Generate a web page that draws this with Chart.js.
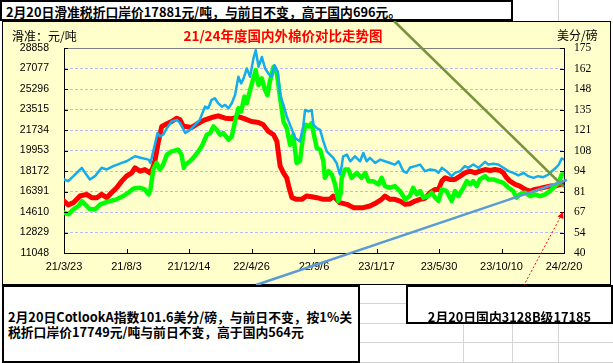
<!DOCTYPE html>
<html>
<head>
<meta charset="utf-8">
<script src="https://cdn.jsdelivr.net/npm/chart.js@4.4.1/dist/chart.umd.min.js"></script>
<style>
html, body { margin:0; padding:0; background:#fff; width:613px; height:363px; overflow:hidden; font-family:"Noto Sans CJK SC", sans-serif; }
.abs { position:absolute; }
#sheet { left:0; top:0; z-index:0; }
#chartBox { left:2px; top:21px; width:609px; height:264px; background:#FFFFCC; border:1px solid #000; box-sizing:border-box; z-index:1; }
#chartBox canvas { position:absolute; left:-1px; top:-1px; }
#links { left:0; top:0; z-index:3; }
.box { background:#fff; border:2px solid #000; box-sizing:border-box; font-weight:bold; font-size:13px; color:#000; white-space:nowrap; z-index:4; }
</style>
</head>
<body>
<svg id="sheet" class="abs" width="613" height="363">
  <g stroke="#D4D4D4" stroke-width="1">
    <line x1="558.5" y1="0" x2="558.5" y2="21"/>
    <line x1="360" y1="303.5" x2="406" y2="303.5"/>
    <line x1="360" y1="323.5" x2="613" y2="323.5"/>
    <line x1="360" y1="342.5" x2="613" y2="342.5"/>
    <line x1="360" y1="362.5" x2="613" y2="362.5"/>
    <line x1="463.5" y1="323" x2="463.5" y2="363"/>
    <line x1="512.5" y1="323" x2="512.5" y2="363"/>
    <line x1="558.5" y1="323" x2="558.5" y2="363"/>
  </g>
</svg>

<div id="chartBox" class="abs">
  <canvas id="c" width="609" height="264"></canvas>
</div>

<div class="abs" style="left:12px;top:27px;font-size:12px;line-height:18px;white-space:nowrap;z-index:2;">滑准：元/吨</div>
<div class="abs" style="left:143px;top:26px;width:280px;text-align:center;font-size:13.5px;line-height:18px;font-weight:bold;color:#FF0000;white-space:nowrap;z-index:2;">21/24年度国内外棉价对比走势图</div>
<div class="abs" style="left:557px;top:26px;font-size:12px;line-height:18px;white-space:nowrap;z-index:2;">美分/磅</div>

<svg id="links" class="abs" width="613" height="363">
  <line x1="394" y1="21" x2="564" y2="187" stroke="#77933C" stroke-width="2.5"/>
  <line x1="256" y1="285" x2="567" y2="180" stroke="#5B9BD5" stroke-width="2.5"/>
  <line x1="516" y1="300" x2="561" y2="216" stroke="#FF0000" stroke-width="1" stroke-dasharray="2,2"/>
  <polygon points="563,212 557.5,216.5 563.5,219" fill="#FF0000"/>
</svg>

<div class="abs box" style="left:0;top:0;width:513px;height:21px;padding:1px 0 0 4px;line-height:17px;font-size:12.8px;">2月20日滑准税折口岸价17881元/吨，与前日不变，高于国内696元。</div>
<div class="abs box" style="left:2px;top:285px;width:358px;height:78px;padding:22px 0 0 4px;line-height:15px;font-size:12.8px;">2月20日CotlookA指数101.6美分/磅，与前日不变，按1%关<br>税折口岸价17749元/吨与前日不变，高于国内564元</div>
<div class="abs box" style="left:406px;top:285px;width:207px;height:39px;padding:22px 0 0 0;line-height:15px;font-size:12.8px;text-align:center;">2月20日国内3128B级17185</div>

<script>
// x = days since 2021-03-23
var xTickDays = [0, 133, 266, 399, 532, 665, 798, 931, 1064];
var xTickLabels = ['21/3/23', '21/8/3', '21/12/14', '22/4/26', '22/9/6', '23/1/17', '23/5/30', '23/10/10', '24/2/20'];
var yuanTicks = [11048, 12829, 14610, 16391, 18172, 19953, 21734, 23515, 25296, 27077, 28858];
var centTicks = [40, 53.5, 67, 80.5, 94, 107.5, 121, 134.5, 148, 161.5, 175];
var centTickLabels = ['40', '54', '67', '81', '94', '108', '121', '135', '148', '162', '175'];

// Cotlook A index, cents/lb (right axis)
var blueDays = [0,9,20,27,38,45,55,66,80,91,105,123,133,151,165,180,184,190,199,204,211,219,229,240,247,253,258,268,279,289,300,307,314,321,328,336,343,350,357,364,371,377,382,389,396,403,408,414,421,428,435,442,448,455,460,467,474,481,492,502,509,513,520,527,531,538,545,552,559,566,573,580,587,591,594,602,609,619,630,637,644,651,662,673,683,694,704,712,722,729,736,747,758,768,779,790,797,804,814,825,832,843,853,860,871,882,896,903,914,924,935,946,956,967,978,988,999,1009,1020,1031,1038,1045,1053,1059,1064];
var blueCents = [88.4,87.3,90.6,92.8,96.1,92.8,88.4,90.6,96.1,95.0,97.2,99.3,100.4,103.7,102.6,101.5,99.3,107.0,119.0,116.8,117.9,122.2,126.6,127.7,125.5,122.2,119.0,121.1,124.4,127.7,136.4,135.3,140.8,141.9,138.6,136.4,137.5,135.3,138.6,144.0,156.0,151.7,154.9,161.5,156.0,168.0,173.5,162.6,169.1,161.5,158.2,156.0,163.7,159.3,144.0,137.5,129.9,124.4,115.7,113.5,123.3,134.2,133.2,134.2,124.4,122.2,121.1,113.5,107.0,104.8,102.6,99.3,91.7,97.2,103.7,104.8,100.4,103.7,100.4,105.9,100.4,102.6,99.3,101.5,100.4,99.3,98.2,100.4,93.9,92.8,96.1,97.2,98.2,93.9,95.0,94.5,92.8,96.1,93.9,90.6,92.8,93.9,97.2,96.1,98.3,96.1,100.0,98.3,98.7,98.3,96.1,93.9,92.8,91.1,92.8,90.6,89.5,90.6,89.9,91.7,93.9,95.6,98.3,102.2,101.6];

// sliding-scale duty landed price, yuan/t (left axis)
var greenDays = [0,9,20,31,38,45,55,66,77,87,98,112,126,137,148,162,172,180,184,190,197,204,211,219,229,243,250,255,258,268,275,286,293,304,311,318,325,332,339,350,357,364,371,377,384,389,396,403,408,414,421,428,433,438,446,453,460,467,474,481,488,495,502,509,514,521,527,531,538,545,552,555,563,570,577,584,589,591,598,605,612,623,633,641,648,658,669,676,683,694,704,715,726,736,743,751,758,765,775,782,790,797,804,814,825,832,839,850,857,864,871,878,885,896,903,914,924,935,946,956,963,970,981,992,1002,1013,1024,1034,1045,1053,1059,1064];
var greenYuan = [14558,14414,14846,15134,15565,15278,14846,14846,15278,15422,15565,15709,15997,16285,16659,16717,16573,16141,16573,18300,18875,18300,18731,19595,19882,20026,19595,18443,18731,19019,19307,19882,20314,21321,21465,22041,21753,21321,21465,20890,21177,22473,23624,23336,24631,24055,25207,26214,26934,25638,26214,25207,24775,25926,27221,26646,24487,22473,21897,20458,21321,18875,19019,21321,22185,22041,22329,21465,20170,20026,19019,17580,18156,17868,17004,15565,16285,17580,18300,18300,17580,18012,17580,18012,17292,17292,17004,17580,16860,16717,16860,16429,15709,15997,16717,16141,16429,15853,15997,16285,15853,15565,16573,16429,15565,16429,15997,16717,17292,17004,17292,16860,17436,17724,17436,17436,17292,17148,16717,16429,15853,16141,16285,15997,16141,15997,16141,16429,16860,17148,17868,17881];

// domestic 3128B, yuan/t (left axis)
var redDays = [0,9,20,34,48,59,70,80,91,101,112,123,133,144,151,162,172,183,189,194,201,208,219,229,240,247,254,258,272,286,300,314,328,343,357,371,385,399,414,424,435,446,453,460,467,474,479,485,495,506,516,527,538,552,566,573,580,587,602,616,637,651,665,676,683,694,704,715,726,736,747,758,768,779,790,797,804,811,821,832,843,853,864,875,885,896,907,917,928,935,942,949,960,970,981,992,1002,1013,1024,1034,1045,1056,1064];
var redYuan = [15565,15220,15422,15997,16141,15853,15853,16141,15853,16285,16717,17292,17724,18012,18443,18156,18300,18012,18443,19163,20746,22041,22271,22473,22760,22617,22041,22041,21955,22329,22617,22818,22962,22760,22703,22904,22703,22473,22386,22185,21609,21321,20746,18587,18012,17580,16717,15853,15709,15709,15997,15939,15853,15709,15709,15997,15709,15422,15278,14990,14990,15134,15422,15709,15997,15709,15709,15565,15278,15335,15565,15709,15796,16285,16573,16573,17292,17580,17436,17436,17724,18012,18156,18012,18156,18300,18214,18300,18214,18012,17580,17292,17004,16860,16573,16429,16573,16659,16774,16860,16860,17004,17185];

function toPoints(days, vals) {
    return days.map(function(d, i) { return {x: d, y: vals[i]}; });
}

// inside tick marks + grey top frame, like the spreadsheet chart
var frame = {
    id: 'frame',
    beforeDatasetsDraw: function(chart) {
        var ctx = chart.ctx, a = chart.chartArea;
        ctx.save();
        ctx.lineWidth = 1;
        ctx.strokeStyle = '#808080';
        ctx.beginPath();
        ctx.moveTo(a.left, a.top + 0.5);
        ctx.lineTo(a.right, a.top + 0.5);
        ctx.stroke();
        ctx.restore();
    },
    afterDraw: function(chart) {
        var ctx = chart.ctx, a = chart.chartArea, s = chart.scales;
        ctx.save();
        ctx.lineWidth = 1;
        ctx.strokeStyle = '#000';
        ctx.beginPath();
        s.y.ticks.forEach(function(t) {
            var p = Math.round(s.y.getPixelForValue(t.value)) + 0.5;
            ctx.moveTo(a.left, p); ctx.lineTo(a.left + 4, p);
        });
        s.y2.ticks.forEach(function(t) {
            var p = Math.round(s.y2.getPixelForValue(t.value)) + 0.5;
            ctx.moveTo(a.right - 4, p); ctx.lineTo(a.right, p);
        });
        s.x.ticks.forEach(function(t) {
            var p = Math.round(s.x.getPixelForValue(t.value)) + 0.5;
            ctx.moveTo(p, a.bottom); ctx.lineTo(p, a.bottom - 4);
        });
        ctx.stroke();
        ctx.restore();
    }
};

var ctx = document.getElementById('c').getContext('2d');
new Chart(ctx, {
    type: 'line',
    data: {
        datasets: [
            {
                label: 'CotlookA',
                data: toPoints(blueDays, blueCents),
                yAxisID: 'y2',
                borderColor: '#14ACEC',
                borderWidth: 2.5
            },
            {
                label: '滑准税折口岸价',
                data: toPoints(greenDays, greenYuan),
                yAxisID: 'y',
                borderColor: '#00FF00',
                borderWidth: 4.5
            },
            {
                label: '国内3128B',
                data: toPoints(redDays, redYuan),
                yAxisID: 'y',
                borderColor: '#FF0000',
                borderWidth: 5
            }
        ]
    },
    options: {
        responsive: false,
        animation: false,
        devicePixelRatio: 1,
        layout: { padding: { top: 27, left: 0, right: 0, bottom: 0 } },
        elements: {
            point: { radius: 0 },
            line: { tension: 0, borderJoinStyle: 'round', borderCapStyle: 'round' }
        },
        plugins: {
            legend: { display: false },
            tooltip: { enabled: false }
        },
        scales: {
            x: {
                type: 'linear',
                min: 0,
                max: 1064,
                afterBuildTicks: function(scale) {
                    scale.ticks = xTickDays.map(function(d) { return {value: d}; });
                },
                afterFit: function(scale) { scale.height = 32; },
                grid: { display: false, drawTicks: false },
                border: { display: true, color: '#000', width: 1 },
                ticks: {
                    autoSkip: false,
                    maxRotation: 0,
                    padding: 7,
                    color: '#000',
                    font: { family: 'Liberation Sans', size: 11 },
                    callback: function(v, i) { return xTickLabels[i]; }
                }
            },
            y: {
                position: 'left',
                min: 11048,
                max: 28858,
                afterBuildTicks: function(scale) {
                    scale.ticks = yuanTicks.map(function(v) { return {value: v}; });
                },
                afterFit: function(scale) { scale.width = 62; },
                grid: {
                    drawTicks: false,
                    lineWidth: 1,
                    color: function(c) {
                        if (c.index === 0 || c.index === yuanTicks.length - 1) return 'rgba(0,0,0,0)';
                        return '#B8BCF2';
                    }
                },
                border: { display: true, color: '#000', width: 1, dash: [3, 2] },
                ticks: {
                    padding: 15,
                    color: '#000',
                    font: { family: 'Liberation Sans', size: 10.5 },
                    callback: function(v) { return String(v); }
                }
            },
            y2: {
                position: 'right',
                min: 40,
                max: 175,
                afterBuildTicks: function(scale) {
                    scale.ticks = centTicks.map(function(v) { return {value: v}; });
                },
                afterFit: function(scale) { scale.width = 47; },
                grid: { display: false, drawTicks: false },
                border: { display: true, color: '#000', width: 1 },
                ticks: {
                    padding: 10,
                    color: '#000',
                    font: { family: 'Liberation Serif', size: 11.5 },
                    callback: function(v, i) { return centTickLabels[i]; }
                }
            }
        }
    },
    plugins: [frame]
});
</script>
</body>
</html>
